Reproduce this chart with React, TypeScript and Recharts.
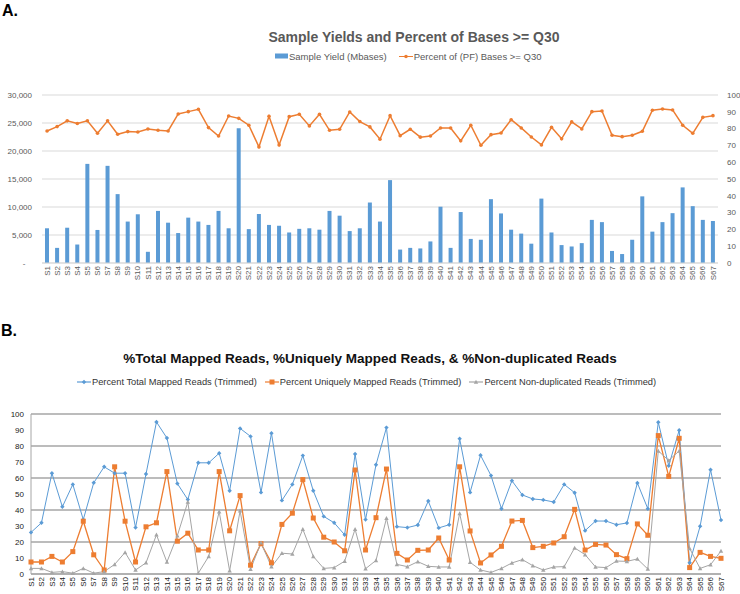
import React from 'react'
import { ComposedChart, LineChart, Bar, Line, XAxis, YAxis, CartesianGrid } from 'recharts'

const samples = [
  'S1','S2','S3','S4','S5','S6','S7','S8','S9','S10','S11','S12','S13','S14','S15','S16','S17','S18','S19','S20',
  'S21','S22','S23','S24','S25','S26','S27','S28','S29','S30','S31','S32','S33','S34','S35','S36','S37','S38','S39','S40',
  'S41','S42','S43','S44','S45','S46','S47','S48','S49','S50','S51','S52','S53','S54','S55','S56','S57','S58','S59','S60',
  'S61','S62','S63','S64','S65','S66','S67',
]

// panel A
const sampleYield = [
  6200, 2700, 6300, 3300, 17700, 5900, 17350, 12300, 7400, 8700,
  2000, 9300, 7200, 5350, 8100, 7400, 6800, 9300, 6200, 24050,
  6050, 8750, 6800, 6650, 5450, 6100, 6200, 5950, 9300, 8450,
  5700, 6200, 10800, 7400, 14800, 2400, 2700, 2600, 3850, 10050,
  2700, 9100, 4300, 4150, 11400, 8850, 5950, 5250, 3450, 11500,
  5450, 3200, 2950, 3550, 7700, 7300, 2150, 1600, 4150, 11900,
  5600, 7300, 8900, 13500, 10150, 7700, 7500,
]
const q30 = [
  78.6, 81.2, 84.6, 83.0, 84.6, 77.2, 84.6, 76.6, 78.2, 78.0,
  79.8, 79.0, 78.6, 88.7, 90.1, 91.5, 80.6, 75.6, 87.5, 86.1,
  82.0, 69.1, 87.3, 70.3, 87.1, 88.5, 81.6, 88.5, 79.0, 79.6,
  89.9, 84.2, 81.0, 73.7, 87.7, 75.8, 79.6, 74.9, 75.6, 80.4,
  80.4, 72.7, 82.0, 70.1, 76.4, 77.4, 85.3, 80.4, 75.0, 70.3,
  80.8, 73.9, 84.0, 79.8, 90.1, 90.5, 76.0, 75.2, 76.0, 78.4,
  90.9, 91.7, 91.1, 82.0, 77.2, 86.7, 87.7,
]

// panel B
const totalMapped = [
  26, 32, 63, 42, 56, 34, 57, 67, 63, 63,
  29, 62.5, 95, 85, 56.5, 46.5, 69.5, 69.5, 75.5, 52,
  91, 86, 51, 88, 46, 56, 74, 52, 36, 32,
  24.5, 75, 34, 68.3, 91.5, 29.6, 29, 30.6, 45.6, 28.8,
  30.8, 84.6, 51, 74.2, 61.5, 40.8, 58.3, 49.4, 46.9, 46.3,
  45, 56, 50.8, 27.1, 33.1, 33.1, 30.8, 31.9, 56.9, 40.8,
  94.8, 67.7, 89.8, 7, 29.8, 65.2, 33.7,
]
const uniqueMapped = [
  7.5, 7.5, 11, 7.5, 14, 33, 12, 2.5, 67, 33,
  7.5, 29.5, 32, 64, 20.5, 25.5, 15, 15, 64, 27,
  49, 5.5, 19, 7, 31, 38, 59, 35, 23, 20,
  14.5, 65, 15, 35.2, 65.6, 12.9, 8.75, 14.8, 15, 22.5,
  8.75, 67, 26.9, 6.9, 11.9, 17.3, 33.1, 33.5, 16.5, 17.3,
  19.4, 23.3, 40.4, 15, 18.5, 18.1, 12.1, 9.6, 31.3, 24.2,
  86.5, 61, 84.8, 4, 13.5, 11, 9.8,
]
const nonDuplicated = [
  3.5, 3.5, 1, 1.5, 0.5, 3.5, 0.5, 1.5, 6, 13.5,
  2.5, 7, 24.5, 7.5, 24, 45, 0.5, 11, 39, 2,
  39.5, 3, 19.5, 4.5, 13, 12.5, 28, 11, 3.5, 4,
  8, 28, 3.3, 8.5, 34.8, 6, 4.6, 7.7, 4.8, 4.4,
  4.4, 37.9, 7.3, 2.5, 1, 3.5, 6.9, 9, 5.2, 2.5,
  4.4, 4.6, 16.3, 12.1, 4.4, 4, 8.1, 7.9, 9.4, 3.1,
  76.9, 71, 76.9, 16, 3.5, 5.8, 14.4,
]

const yieldTicks = [0, 5000, 10000, 15000, 20000, 25000, 30000]
const pctTicks = [0, 10, 20, 30, 40, 50, 60, 70, 80, 90, 100]

const BLUE = '#5B9BD5'
const ORANGE = '#ED7D31'
const GRAY = '#A5A5A5'
const FONT = '"Liberation Sans", Arial, sans-serif'

const dataA = samples.map((s, i) => ({ sample: s, yield: sampleYield[i], q30: q30[i] }))
const dataB = samples.map((s, i) => ({
  sample: s,
  total: totalMapped[i],
  unique: uniqueMapped[i],
  nondup: nonDuplicated[i],
}))

const fmtYield = (v: number) => (v === 0 ? '-\u00a0\u00a0\u00a0' : v.toLocaleString('en-US'))

function XTick(props: any) {
  const { x, y, payload, color } = props
  return (
    <text x={x} y={y} transform={`rotate(-90, ${x}, ${y})`} textAnchor="end" dy="0.33em"
      fontSize={8} fill={color} fontFamily={FONT}>
      {payload.value}
    </text>
  )
}

const Square = (props: any) => {
  const { cx, cy } = props
  if (cx == null || cy == null) return null
  return <rect x={cx - 2.5} y={cy - 2.5} width={5} height={5} fill={ORANGE} />
}
const Diamond = (props: any) => {
  const { cx, cy } = props
  if (cx == null || cy == null) return null
  return <path d={`M${cx},${cy - 2.2}L${cx + 2.2},${cy}L${cx},${cy + 2.2}L${cx - 2.2},${cy}Z`} fill={BLUE} />
}
const Triangle = (props: any) => {
  const { cx, cy } = props
  if (cx == null || cy == null) return null
  return <path d={`M${cx},${cy - 2.2}L${cx + 2.2},${cy + 1.8}L${cx - 2.2},${cy + 1.8}Z`} fill={GRAY} />
}

function LineMark({ color, shape }: { color: string; shape: string }) {
  return (
    <svg width={14} height={8} style={{ display: 'block' }}>
      <line x1={0} y1={4} x2={14} y2={4} stroke={color} strokeWidth={1.2} />
      {shape === 'circle' && <circle cx={7} cy={4} r={1.8} fill={color} />}
      {shape === 'square' && <rect x={4.5} y={1.5} width={5} height={5} fill={color} />}
      {shape === 'diamond' && <path d="M7,1.8L9.2,4L7,6.2L4.8,4Z" fill={color} />}
      {shape === 'triangle' && <path d="M7,1.8L9.2,5.8L4.8,5.8Z" fill={color} />}
    </svg>
  )
}

export default function App() {
  return (
    <div style={{ position: 'absolute', left: 0, top: 0, width: 740, height: 594, background: '#fff', fontFamily: FONT }}>
      <div style={{ position: 'absolute', left: 2, top: 1, fontSize: 16, lineHeight: '19px', fontWeight: 'bold' }}>A.</div>
      <div style={{ position: 'absolute', left: 414, top: 37, transform: 'translate(-50%, -50%)', whiteSpace: 'nowrap', fontSize: 14, fontWeight: 'bold', color: '#595959' }}>
        Sample Yields and Percent of Bases &gt;= Q30
      </div>
      <div style={{ position: 'absolute', left: 275, top: 56, transform: 'translateY(-50%)', display: 'flex', alignItems: 'center', fontSize: 9.5, color: '#595959', whiteSpace: 'nowrap' }}>
        <div style={{ width: 13, height: 5, background: BLUE, marginRight: 1 }} />
        <span>Sample Yield (Mbases)</span>
        <div style={{ width: 12 }} />
        <LineMark color={ORANGE} shape="circle" />
        <span style={{ marginLeft: 1 }}>Percent of (PF) Bases &gt;= Q30</span>
      </div>

      <div style={{ position: 'absolute', left: 0, top: 0 }}>
        <ComposedChart width={740} height={300} data={dataA} margin={{ top: 95, right: 0, bottom: 0, left: 0 }}>
          <CartesianGrid vertical={false} stroke="#d9d9d9" yAxisId="left" />
          <XAxis dataKey="sample" interval={0} height={37} tickSize={1} tickMargin={2} tickLine={false}
            axisLine={{ stroke: '#d9d9d9' }} tick={<XTick color="#595959" />} />
          <YAxis yAxisId="left" width={42} domain={[0, 30000]} ticks={yieldTicks} tickFormatter={fmtYield}
            axisLine={false} tickLine={false} tickSize={6} tickMargin={4}
            tick={{ fontSize: 8, fill: '#595959', fontFamily: FONT }} />
          <YAxis yAxisId="right" orientation="right" width={22} domain={[0, 100]} ticks={pctTicks}
            axisLine={false} tickLine={false} tickSize={6} tickMargin={3}
            tick={{ fontSize: 8, fill: '#595959', fontFamily: FONT }} />
          <Bar yAxisId="left" dataKey="yield" fill={BLUE} barSize={4} isAnimationActive={false} />
          <Line yAxisId="right" type="linear" dataKey="q30" stroke={ORANGE} strokeWidth={1.5}
            dot={{ r: 1.8, fill: ORANGE, stroke: ORANGE, strokeWidth: 0 }} activeDot={false} isAnimationActive={false} />
        </ComposedChart>
      </div>

      <div style={{ position: 'absolute', left: 1, top: 321, fontSize: 16, lineHeight: '19px', fontWeight: 'bold' }}>B.</div>
      <div style={{ position: 'absolute', left: 370, top: 358, transform: 'translate(-50%, -50%)', whiteSpace: 'nowrap', fontSize: 13.5, fontWeight: 'bold', color: '#111' }}>
        %Total Mapped Reads, %Uniquely Mapped Reads, &amp; %Non-duplicated Reads
      </div>
      <div style={{ position: 'absolute', left: 77, top: 382, transform: 'translateY(-50%)', display: 'flex', alignItems: 'center', fontSize: 9.3, color: '#333', whiteSpace: 'nowrap' }}>
        <LineMark color={BLUE} shape="diamond" />
        <span style={{ marginLeft: 1 }}>Percent Total Mapped Reads (Trimmed)</span>
        <div style={{ width: 8 }} />
        <LineMark color={ORANGE} shape="square" />
        <span style={{ marginLeft: 1 }}>Percent Uniquely Mapped Reads (Trimmed)</span>
        <div style={{ width: 8 }} />
        <LineMark color={GRAY} shape="triangle" />
        <span style={{ marginLeft: 1 }}>Percent Non-duplicated Reads (Trimmed)</span>
      </div>

      <div style={{ position: 'absolute', left: 0, top: 300 }}>
        <LineChart width={740} height={294} data={dataB} margin={{ top: 114, right: 19, bottom: 0, left: 0 }}>
          <CartesianGrid vertical={false} stroke="#a6a6a6" strokeWidth={1.3} />
          <XAxis dataKey="sample" interval={0} height={20} tickSize={1} tickMargin={2} tickLine={false}
            axisLine={{ stroke: '#a6a6a6' }} tick={<XTick color="#222" />} />
          <YAxis width={31} domain={[0, 100]} ticks={pctTicks} axisLine={{ stroke: '#a6a6a6' }} tickLine={false}
            tickSize={4} tickMargin={3} tick={{ fontSize: 8, fill: '#222', fontFamily: FONT }} />
          <Line type="linear" dataKey="total" stroke={BLUE} strokeWidth={1} dot={<Diamond />} activeDot={false} isAnimationActive={false} />
          <Line type="linear" dataKey="unique" stroke={ORANGE} strokeWidth={1.3} dot={<Square />} activeDot={false} isAnimationActive={false} />
          <Line type="linear" dataKey="nondup" stroke={GRAY} strokeWidth={1} dot={<Triangle />} activeDot={false} isAnimationActive={false} />
        </LineChart>
      </div>
    </div>
  )
}
